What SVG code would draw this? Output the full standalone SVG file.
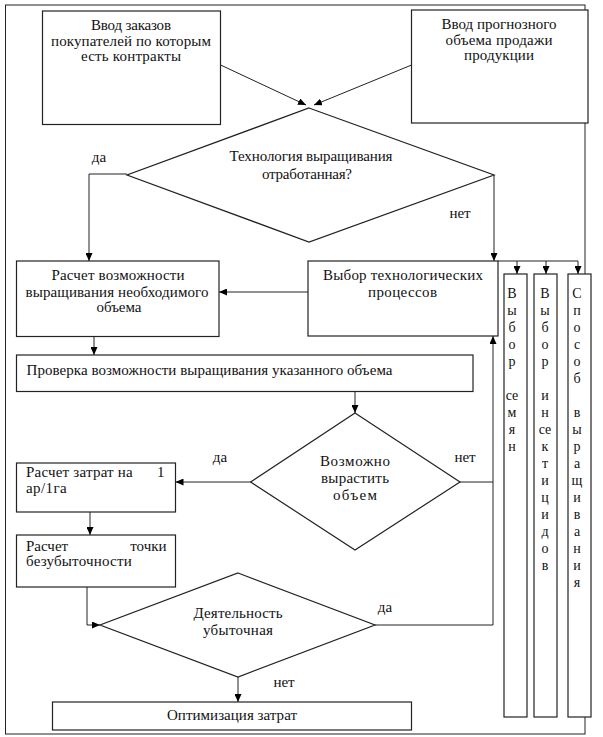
<svg xmlns="http://www.w3.org/2000/svg" width="603" height="737" viewBox="0 0 603 737">
<defs>
<marker id="arr" markerUnits="userSpaceOnUse" markerWidth="8" markerHeight="7" refX="8" refY="3.5" orient="auto">
<path d="M0,0 L8,3.5 L0,7 z" fill="#000"/>
</marker>
<style>
.b{fill:#fff;stroke:#222;stroke-width:1.2}
.c{fill:none;stroke:#222;stroke-width:1}
.t{font-family:Liberation Serif,DejaVu Serif,Tinos,Times New Roman,serif;font-size:15px;fill:#111}
.m{text-anchor:middle}
.v{font-family:Liberation Serif,DejaVu Serif,Tinos,Times New Roman,serif;font-size:14px;fill:#111;text-anchor:middle}
</style>
</defs>
<rect width="603" height="737" fill="#fff"/>
<rect id="frame" x="5.5" y="5" width="579.5" height="729" class="c"/>
<g id="connectors" class="c">
<line x1="220.6" y1="65" x2="306" y2="105" marker-end="url(#arr)"/>
<line x1="411.6" y1="65" x2="314" y2="105" marker-end="url(#arr)"/>
<polyline points="127,174 89,174 89,261" marker-end="url(#arr)"/>
<polyline points="494,175 494,261" marker-end="url(#arr)"/>
<line x1="308" y1="292" x2="219" y2="292" marker-end="url(#arr)"/>
<line x1="498" y1="261" x2="578" y2="261"/>
<line x1="517" y1="261" x2="517" y2="274" marker-end="url(#arr)"/>
<line x1="546" y1="261" x2="546" y2="274" marker-end="url(#arr)"/>
<line x1="578" y1="261" x2="578" y2="274" marker-end="url(#arr)"/>
<line x1="94" y1="336.5" x2="94" y2="355" marker-end="url(#arr)"/>
<line x1="355" y1="391.5" x2="355" y2="413" marker-end="url(#arr)"/>
<line x1="250.6" y1="482" x2="175.5" y2="482" marker-end="url(#arr)"/>
<line x1="460" y1="482" x2="493" y2="482"/>
<polyline points="375,625 493,625 493,336" marker-end="url(#arr)"/>
<line x1="90" y1="512" x2="90" y2="535" marker-end="url(#arr)"/>
<polyline points="87,587 87,625 100,625" marker-end="url(#arr)"/>
<line x1="238" y1="677" x2="238" y2="702" marker-end="url(#arr)"/>
</g>
<g id="n1">
<rect x="42.5" y="11" width="178" height="113.5" class="b"/>
<text class="t m" x="131" y="30" textLength="80">Ввод заказов</text>
<text class="t m" x="131" y="46" textLength="160">покупателей по которым</text>
<text class="t m" x="131" y="61" textLength="100">есть контракты</text>
</g>
<g id="n2">
<rect x="411.5" y="10" width="176.5" height="113" class="b"/>
<text class="t m" x="499" y="29" textLength="115">Ввод прогнозного</text>
<text class="t m" x="499" y="45" textLength="107">объема продажи</text>
<text class="t m" x="499" y="60" textLength="70">продукции</text>
</g>
<g id="d1">
<polygon points="309,108 494,175 309,242 127,175" class="b"/>
<text class="t m" x="311" y="161" textLength="163">Технология выращивания</text>
<text class="t m" x="307" y="179" textLength="90">отработанная?</text>
</g>
<g id="n3">
<rect x="16.5" y="261" width="202.5" height="75.5" class="b"/>
<text class="t m" x="118" y="280" textLength="133">Расчет возможности</text>
<text class="t m" x="117" y="297" textLength="183">выращивания необходимого</text>
<text class="t m" x="119" y="312" textLength="45">объема</text>
</g>
<g id="n4">
<rect x="308" y="261" width="190" height="75" class="b"/>
<text class="t m" x="403" y="280" textLength="160">Выбор технологических</text>
<text class="t m" x="402.5" y="297" textLength="69">процессов</text>
</g>
<g id="n5">
<rect x="16.5" y="355" width="456.5" height="36.5" class="b"/>
<text class="t" x="26.5" y="375" textLength="366">Проверка возможности выращивания указанного объема</text>
</g>
<g id="d2">
<polygon points="355,413 460,482 355,550 250.6,482" class="b"/>
<text class="t m" x="355" y="466" textLength="70">Возможно</text>
<text class="t m" x="355" y="483" textLength="68">вырастить</text>
<text class="t m" x="355" y="500" textLength="44">объем</text>
</g>
<g id="n6">
<rect x="16.5" y="463" width="159" height="49" class="b"/>
<text class="t" y="477"><tspan x="26" textLength="110.7">Расчет затрат на </tspan><tspan x="157">1</tspan></text>
<text class="t" x="26" y="493" textLength="40.7">ар/1га</text>
</g>
<g id="n7">
<rect x="16.5" y="535" width="159" height="52" class="b"/>
<text class="t" y="551"><tspan x="26">Расчет </tspan><tspan x="166.5" text-anchor="end">точки</tspan></text>
<text class="t" x="26" y="566" textLength="105.7">безубыточности</text>
</g>
<g id="d3">
<polygon points="238,573 375,625 238,677 100,625" class="b"/>
<text class="t m" x="238" y="618" textLength="89">Деятельность</text>
<text class="t m" x="238" y="635" textLength="70">убыточная</text>
</g>
<g id="n8">
<rect x="52.5" y="702" width="359" height="28" class="b"/>
<text class="t m" x="232" y="720" textLength="130">Оптимизация затрат</text>
</g>
<g id="nA">
<rect x="504" y="274" width="23" height="443" class="b"/>
<text class="v"><tspan x="512" y="298">В</tspan><tspan x="512" y="315">ы</tspan><tspan x="512" y="332">б</tspan><tspan x="512" y="349">о</tspan><tspan x="512" y="366">р</tspan><tspan x="512" y="400">се</tspan><tspan x="512" y="417">м</tspan><tspan x="512" y="434">я</tspan><tspan x="512" y="451">н</tspan></text>
</g>
<g id="nB">
<rect x="534" y="274" width="23" height="443" class="b"/>
<text class="v"><tspan x="545" y="298">В</tspan><tspan x="545" y="315">ы</tspan><tspan x="545" y="332">б</tspan><tspan x="545" y="349">о</tspan><tspan x="545" y="366">р</tspan><tspan x="545" y="400">и</tspan><tspan x="545" y="417">н</tspan><tspan x="545" y="434">се</tspan><tspan x="545" y="451">к</tspan><tspan x="545" y="468">т</tspan><tspan x="545" y="485">и</tspan><tspan x="545" y="502">ц</tspan><tspan x="545" y="519">и</tspan><tspan x="545" y="536">д</tspan><tspan x="545" y="553">о</tspan><tspan x="545" y="570">в</tspan></text>
</g>
<g id="nC">
<rect x="568" y="274" width="23" height="443" class="b"/>
<text class="v"><tspan x="577" y="298">С</tspan><tspan x="577" y="315">п</tspan><tspan x="577" y="332">о</tspan><tspan x="577" y="349">с</tspan><tspan x="577" y="366">о</tspan><tspan x="577" y="383">б</tspan><tspan x="577" y="417">в</tspan><tspan x="577" y="434">ы</tspan><tspan x="577" y="451">р</tspan><tspan x="577" y="468">а</tspan><tspan x="577" y="485">щ</tspan><tspan x="577" y="502">и</tspan><tspan x="577" y="519">в</tspan><tspan x="577" y="536">а</tspan><tspan x="577" y="553">н</tspan><tspan x="577" y="570">и</tspan><tspan x="577" y="587">я</tspan></text>
</g>
<g id="labels">
<text class="t m" x="99" y="162">да</text>
<text class="t m" x="460" y="218">нет</text>
<text class="t m" x="220" y="462">да</text>
<text class="t m" x="465" y="462">нет</text>
<text class="t m" x="385" y="612">да</text>
<text class="t m" x="284" y="687">нет</text>
</g>
</svg>
